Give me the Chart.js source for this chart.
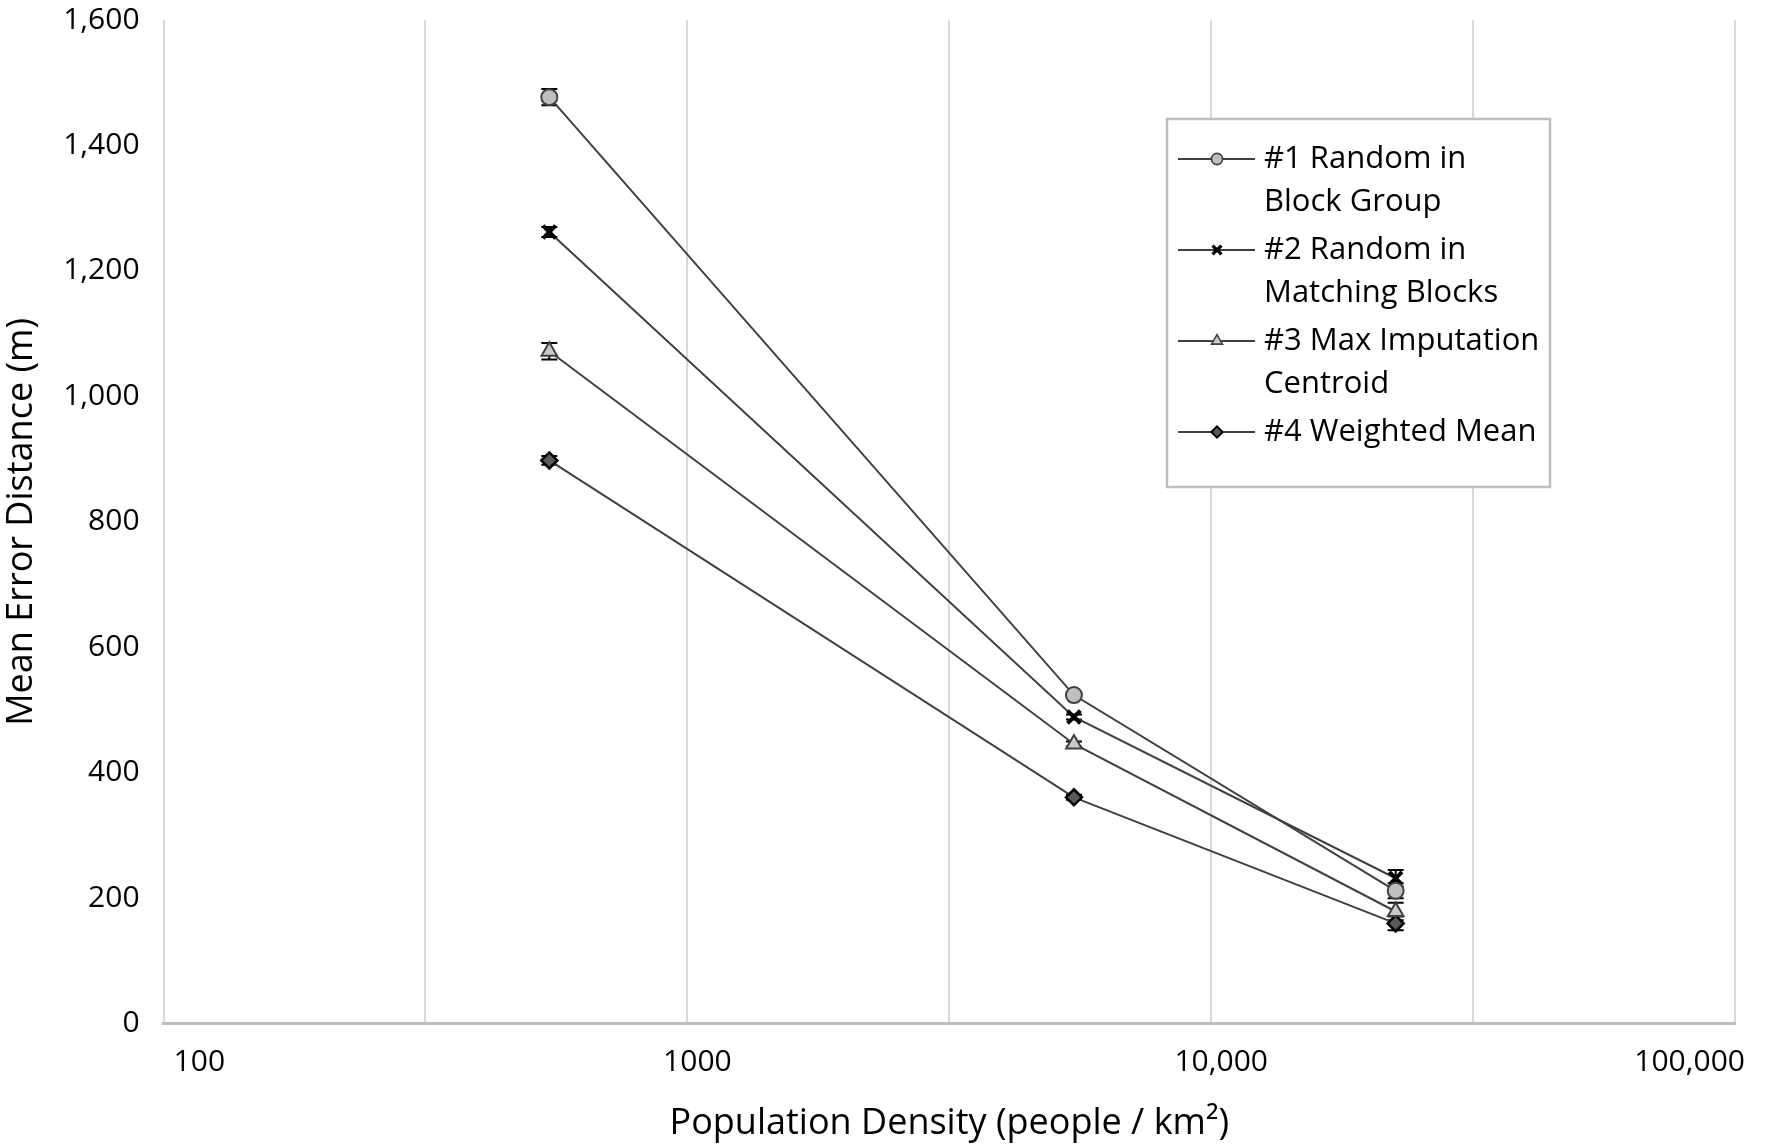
<!DOCTYPE html>
<html>
<head>
<meta charset="utf-8">
<script src="https://cdn.jsdelivr.net/npm/chart.js@4"></script>
<style>
  html, body { margin: 0; padding: 0; background: #fff; }
  #wrap { width: 1772px; height: 1145px; position: relative; }
</style>
</head>
<body>
<div id="wrap"><canvas id="grafico"></canvas></div>
<script>
// population density (people / km2) of the three groups
const densidades = [545, 5470, 22500];

const nomesSeries = [
  ['#1 Random in', 'Block Group'],
  ['#2 Random in', 'Matching Blocks'],
  ['#3 Max Imputation', 'Centroid'],
  ['#4 Weighted Mean']
];

// mean error distance (m)
const randomBlockGroup = [1477, 524, 212];
const randomMatchingBlocks = [1262, 489, 232];
const maxImputationCentroid = [1072, 446, 179];
const weightedMean = [898, 361, 160];

// error bars (+/- m)
const erroBlockGroup = [13, 4, 12];
const erroMatching = [8, 4, 13];
const erroCentroid = [13, 4, 14];
const erroWeighted = [7, 4, 11];

const xTicks = [100, 316.2, 1000, 3162, 10000, 31620, 100000];
const xTickLabels = ['100', '', '1000', '', '10,000', '', '100,000'];
const yTicks = [0, 200, 400, 600, 800, 1000, 1200, 1400, 1600];
const yTickLabels = ['0', '200', '400', '600', '800', '1,000', '1,200', '1,400', '1,600'];

const estilos = [
  { pointStyle: 'circle', bg: '#bfbfbf', border: '#404040', radius: 8, bw: 2 },
  { pointStyle: 'crossRot', bg: '#000000', border: '#000000', radius: 9, bw: 4 },
  { pointStyle: 'triangle', bg: '#c9c9c9', border: '#404040', radius: 9, bw: 2 },
  { pointStyle: 'rectRot', bg: '#5a5a5a', border: '#000000', radius: 8, bw: 2.5 }
];

const series = [randomBlockGroup, randomMatchingBlocks, maxImputationCentroid, weightedMean];
const erros = [erroBlockGroup, erroMatching, erroCentroid, erroWeighted];

const FONTE = "'Open Sans', sans-serif";

const datasets = series.map((vals, i) => ({
  label: nomesSeries[i].join(' '),
  data: densidades.map((x, j) => ({ x: x, y: vals[j] })),
  borderColor: '#404040',
  borderWidth: 2,
  pointStyle: estilos[i].pointStyle,
  pointRadius: estilos[i].radius,
  pointBackgroundColor: estilos[i].bg,
  pointBorderColor: estilos[i].border,
  pointBorderWidth: estilos[i].bw,
  errorBars: erros[i],
  fill: false,
  tension: 0
}));

// error bars drawn through the scales, behind the markers
const barrasErro = {
  id: 'barrasErro',
  beforeDatasetsDraw(chart) {
    const ctx = chart.ctx;
    const xs = chart.scales.x, ys = chart.scales.y;
    ctx.save();
    ctx.strokeStyle = '#000';
    ctx.lineWidth = 2;
    chart.data.datasets.forEach(ds => {
      ds.data.forEach((p, j) => {
        const e = ds.errorBars[j];
        const px = xs.getPixelForValue(p.x);
        const top = ys.getPixelForValue(p.y + e);
        const bot = ys.getPixelForValue(p.y - e);
        ctx.beginPath();
        ctx.moveTo(px, top); ctx.lineTo(px, bot);
        ctx.moveTo(px - 8, top); ctx.lineTo(px + 8, top);
        ctx.moveTo(px - 8, bot); ctx.lineTo(px + 8, bot);
        ctx.stroke();
      });
    });
    ctx.restore();
  }
};

// legend box inside the plot area, with two-line labels
const legendaCaixa = {
  id: 'legendaCaixa',
  afterDraw(chart) {
    const ctx = chart.ctx;
    const a = chart.chartArea;
    const left = a.right - 568, top = a.top + 99;
    const w = 383, h = 368;
    ctx.save();
    ctx.fillStyle = '#fff';
    ctx.fillRect(left, top, w, h);
    ctx.strokeStyle = '#bfbfbf';
    ctx.lineWidth = 2.5;
    ctx.strokeRect(left, top, w, h);
    ctx.font = '31px ' + FONTE;
    ctx.textBaseline = 'middle';
    let y = top + 40;
    nomesSeries.forEach((linhas, i) => {
      ctx.strokeStyle = '#000';
      ctx.lineWidth = 1.5;
      ctx.beginPath();
      ctx.moveTo(left + 11, y);
      ctx.lineTo(left + 88, y);
      ctx.stroke();
      const s = estilos[i];
      ctx.fillStyle = s.bg;
      ctx.strokeStyle = s.border;
      ctx.lineWidth = Math.max(1.5, s.bw * 0.8);
      Chart.helpers.drawPoint(ctx, {
        pointStyle: s.pointStyle,
        radius: s.radius * 0.7,
        rotation: 0,
        borderWidth: ctx.lineWidth
      }, left + 50, y);
      ctx.fillStyle = '#000';
      linhas.forEach((t, k) => ctx.fillText(t, left + 97, y + k * 43));
      y += 91;
    });
    ctx.restore();
  }
};

const ctx = document.getElementById('grafico').getContext('2d');
new Chart(ctx, {
  type: 'line',
  data: { datasets: datasets },
  plugins: [barrasErro, legendaCaixa],
  options: {
    responsive: true,
    maintainAspectRatio: false,
    animation: false,
    layout: { padding: { left: 0, right: 37, top: 20, bottom: 0 } },
    plugins: {
      legend: { display: false },
      tooltip: { enabled: false }
    },
    scales: {
      x: {
        type: 'logarithmic',
        min: 100,
        max: 100000,
        afterBuildTicks: axis => { axis.ticks = xTicks.map(v => ({ value: v })); },
        ticks: {
          autoSkip: false,
          maxRotation: 0,
          padding: 21,
          align: 'inner',
          labelOffset: 10,
          color: '#000',
          font: { family: FONTE, size: 30 },
          callback: (v, i) => xTickLabels[i]
        },
        grid: { color: '#d9d9d9', lineWidth: 2, drawTicks: false },
        border: { color: '#bfbfbf', width: 3 },
        title: {
          display: true,
          text: 'Population Density (people / km²)',
          color: '#000',
          font: { family: FONTE, size: 36 },
          padding: { top: 0, bottom: 0 }
        }
      },
      y: {
        min: 0,
        max: 1600,
        afterBuildTicks: axis => { axis.ticks = yTicks.map(v => ({ value: v })); },
        afterFit: axis => { axis.paddingTop = 0; axis.paddingBottom = 0; },
        ticks: {
          padding: 16,
          color: '#000',
          font: { family: FONTE, size: 30 },
          callback: (v, i) => yTickLabels[i]
        },
        grid: { display: false },
        border: { display: false },
        title: {
          display: true,
          text: 'Mean Error Distance (m)',
          color: '#000',
          font: { family: FONTE, size: 36 },
          padding: { top: 0, bottom: 4 }
        }
      }
    }
  }
});
</script>
</body>
</html>
